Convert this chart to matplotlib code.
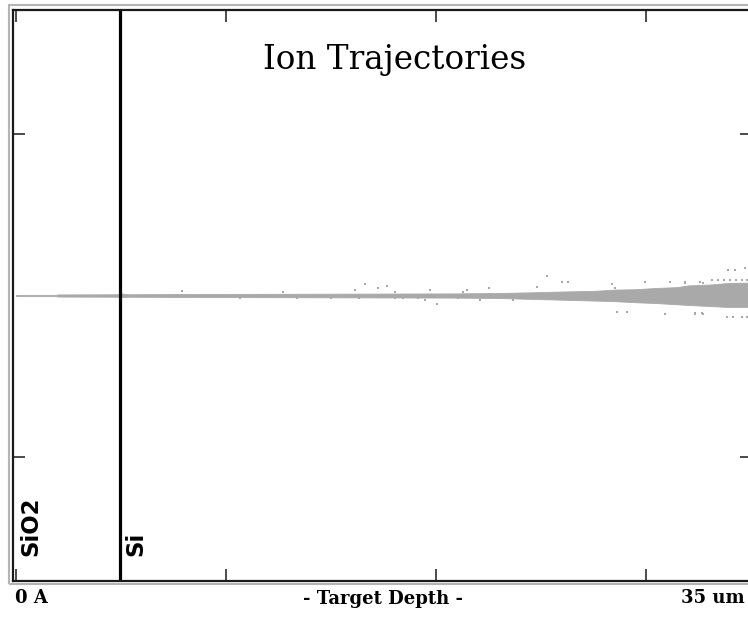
import matplotlib
matplotlib.use('Agg')
import matplotlib.pyplot as plt
from matplotlib.patches import Rectangle
import numpy as np

# depth and lateral values in um
depth_max = 35.0
layer_names = ['SiO2', 'Si']
layer_edge = 4.95          # SiO2 / Si interface
x_ticks = [0, 10, 20, 30]
y_ticks = [-7.67, 7.67]

# envelope of the dense trajectory band (depth, upper, lower)
band_depth = [0.0, 1.9, 2.0, 4.9, 5.0, 5.3, 8.0, 12.0, 17.0, 21.0, 23.0, 24.5,
              26.0, 27.5, 28.5, 29.5, 30.5, 31.5, 32.0, 33.0, 34.0, 35.2]
band_upper = [0.03, 0.03, 0.05, 0.06, 0.10, 0.06, 0.07, 0.08, 0.09, 0.10, 0.12, 0.15,
              0.19, 0.22, 0.28, 0.30, 0.36, 0.40, 0.48, 0.52, 0.60, 0.62]
band_lower = [0.03, 0.03, 0.05, 0.06, 0.08, 0.06, 0.07, 0.08, 0.09, 0.10, 0.12, 0.16,
              0.20, 0.24, 0.27, 0.32, 0.36, 0.42, 0.45, 0.50, 0.55, 0.55]

# stray ion points outside the band
stray_x = [7.90, 10.67, 12.71, 13.38, 15.00, 16.14, 16.62, 16.33, 17.24, 17.67,
           18.05, 18.05, 18.43, 19.14, 19.48, 19.71, 20.05, 21.05, 21.29, 21.48,
           22.10, 22.52, 23.67, 24.81, 25.29, 26.00, 26.29, 28.38, 28.52, 28.62,
           29.10, 29.95, 30.90, 31.14, 31.86, 31.86, 32.33, 32.33, 32.57, 32.67,
           32.71, 32.71, 33.14, 33.43, 33.71, 33.86, 33.90, 34.00, 34.14, 34.24,
           34.29, 34.57, 34.57, 34.71, 34.81, 34.81]
stray_y = [0.21, -0.12, 0.17, -0.12, -0.12, 0.26, 0.55, -0.12, 0.36, 0.45,
           0.17, -0.12, -0.12, -0.12, -0.21, 0.26, -0.40, -0.12, 0.17, 0.26,
           -0.21, 0.36, -0.21, 0.40, 0.93, 0.64, 0.64, 0.55, 0.36, -0.79,
           -0.79, 0.64, -0.88, 0.64, 0.64, 0.60, -0.88, -0.83, 0.64, -0.83,
           -0.88, 0.60, 0.74, 0.74, 0.74, -1.02, 1.21, 0.74, -1.02, 1.21,
           0.74, 0.74, -1.02, 1.31, 0.74, -1.02]

W, H = 748, 619
px_per_um = 21.0
x0_px = 16.0              # pixel column of depth 0
yc_px = 295.5             # pixel row of lateral 0
ax_left, ax_right, ax_top, ax_bottom = 13.0, 752.0, 9.5, 580.5

fig = plt.figure(figsize=(W / 100, H / 100), dpi=100)
fig.patch.set_facecolor('white')

ax = fig.add_axes([ax_left / W, 1 - ax_bottom / H,
                   (ax_right - ax_left) / W, (ax_bottom - ax_top) / H])
ax.set_xlim((ax_left - x0_px) / px_per_um, (ax_right - x0_px) / px_per_um)
ax.set_ylim(-(ax_bottom - yc_px) / px_per_um, (yc_px - ax_top) / px_per_um)

gray = '#a9a9a9'
ax.fill_between(band_depth, [-v for v in band_lower], band_upper,
                color=gray, linewidth=0.6, edgecolor=gray)
ax.plot(stray_x, stray_y, 's', color=gray, markersize=2.0, markeredgewidth=0)

ax.axvline(layer_edge, color='black', linewidth=2.3)

for s in ax.spines.values():
    s.set_linewidth(1.6)
    s.set_color('#1a1a1a')
ax.set_xticks(x_ticks)
ax.set_yticks(y_ticks)
ax.tick_params(direction='in', length=8.5, width=1.1, color='#1a1a1a',
               top=True, right=True, labelbottom=False, labelleft=False)

# outer grey frame
fig.add_artist(Rectangle((9 / W, 1 - 583.5 / H), 760 / W, 578.5 / H,
                         transform=fig.transFigure, fill=False,
                         edgecolor='#b4b4b4', linewidth=1.5))

def fx(px):
    return px / W

def fy(py):
    return 1 - py / H

fig.text(fx(395), fy(60), 'Ion Trajectories', family='DejaVu Serif',
         fontsize=23.5, ha='center', va='center')

lab = dict(family='DejaVu Serif', fontweight='bold', fontsize=13, va='center')
fig.text(fx(15), fy(598), '0 A', ha='left', **lab)
fig.text(fx(383), fy(599), '- Target Depth -', ha='center', **lab)
fig.text(fx(745), fy(598), '35 um', ha='right', **lab)

side = dict(family='DejaVu Sans', fontweight='bold', fontsize=16.5,
            rotation=90, ha='center', va='bottom')
fig.text(fx(31), fy(556), layer_names[0], **side)
fig.text(fx(136), fy(556), layer_names[1], **side)

fig.savefig('out.png', dpi=100)
